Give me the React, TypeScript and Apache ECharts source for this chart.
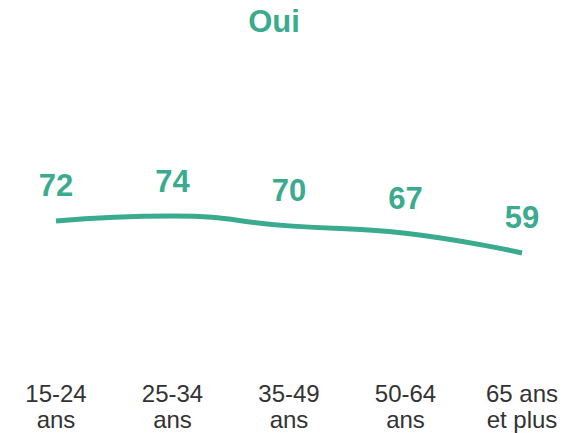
import React, { useEffect, useRef } from "react";
import * as echarts from "echarts";

const categories = ["15-24\nans", "25-34\nans", "35-49\nans", "50-64\nans", "65 ans\net plus"];
const values = [72, 74, 70, 67, 59];
const title = "Oui";
const green = "#3aab8e";
const font = "Liberation Sans, Arial, sans-serif";

export default function App() {
  const ref = useRef<HTMLDivElement>(null);
  useEffect(() => {
    const chart = echarts.init(ref.current!, null, { renderer: "svg" });
    chart.setOption({
      animation: false,
      title: {
        text: title,
        left: 274,
        top: 6,
        textAlign: "center",
        padding: 0,
        textStyle: { color: green, fontSize: 31, fontWeight: "bold", fontFamily: font },
      },
      grid: { left: 56, right: 65, top: 152, bottom: 84, outerBoundsMode: "none", containLabel: false },
      xAxis: {
        type: "category",
        data: categories,
        boundaryGap: false,
        axisLine: { show: false },
        axisTick: { show: false },
        axisLabel: {
          color: "#333",
          fontSize: 24,
          lineHeight: 26,
          margin: 31,
          fontFamily: font,
        },
      },
      yAxis: { type: "value", min: 20, max: 100, show: false, splitLine: { show: false } },
      series: [
        {
          type: "line",
          data: values,
          smooth: true,
          showSymbol: true,
          symbol: "circle",
          symbolSize: 1,
          lineStyle: { color: green, width: 5 },
          itemStyle: { color: "rgba(0,0,0,0)" },
          label: {
            show: true,
            position: "top",
            distance: 19,
            color: green,
            fontSize: 31,
            fontWeight: "bold",
            fontFamily: font,
          },
        },
      ],
    });
    return () => chart.dispose();
  }, []);
  return <div ref={ref} style={{ position: "absolute", left: 0, top: 0, width: 587, height: 433 }} />;
}
